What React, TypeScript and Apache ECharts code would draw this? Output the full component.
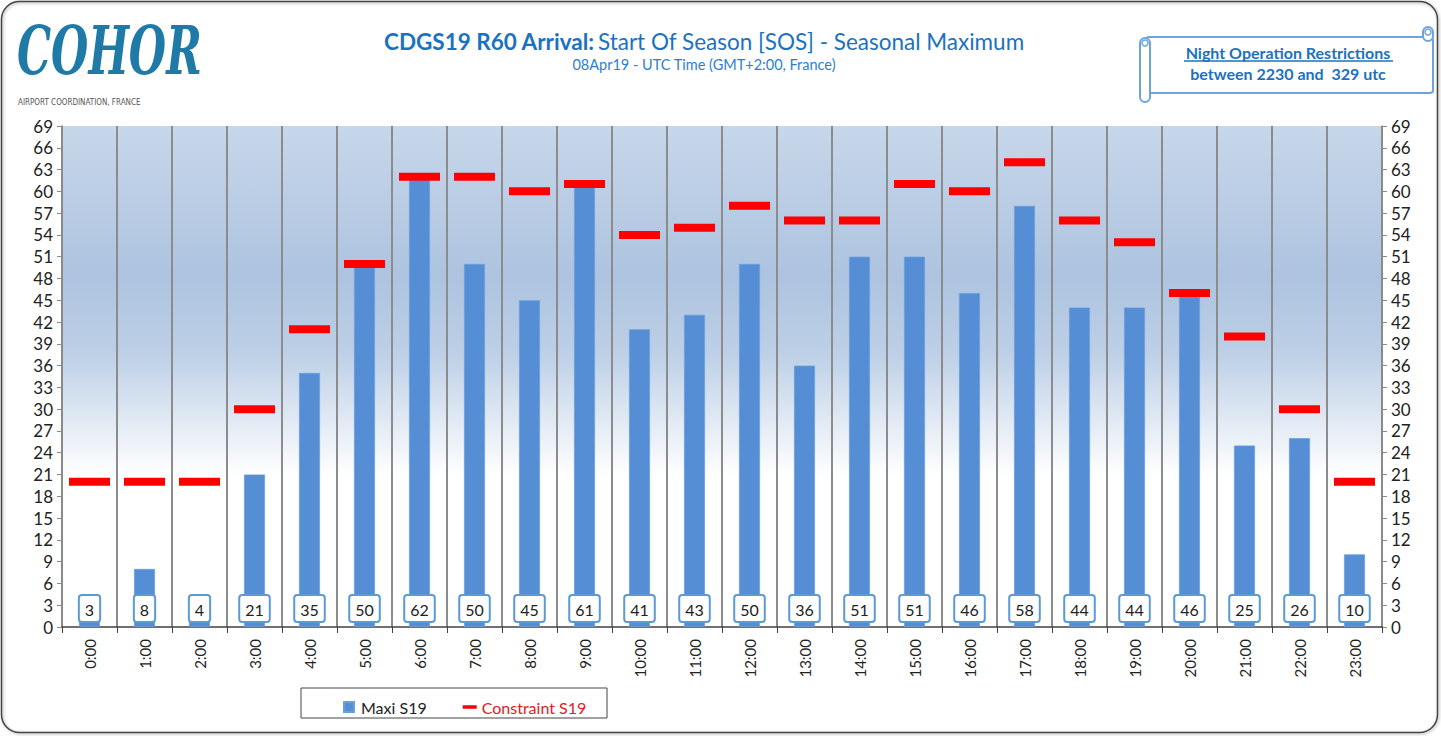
import React, { useEffect, useRef } from "react";
import * as echarts from "echarts";

const hours = ["0:00","1:00","2:00","3:00","4:00","5:00","6:00","7:00","8:00","9:00","10:00","11:00","12:00","13:00","14:00","15:00","16:00","17:00","18:00","19:00","20:00","21:00","22:00","23:00"];
const maxiS19 = [3, 8, 4, 21, 35, 50, 62, 50, 45, 61, 41, 43, 50, 36, 51, 51, 46, 58, 44, 44, 46, 25, 26, 10];
const constraintS19 = [20, 20, 20, 30, 41, 50, 62, 62, 60, 61, 54, 55, 58, 56, 56, 61, 60, 64, 56, 53, 46, 40, 30, 20];
const yMax = 69;
const yInterval = 3;

const FONT = "Lato, 'Open Sans', sans-serif";
const BLUE_TXT = "#1b72c0";

export default function App() {
  const ref = useRef<HTMLDivElement>(null);
  useEffect(() => {
    if (!ref.current) return;
    const chart = echarts.init(ref.current, undefined, { renderer: "svg" });
    const bg = new echarts.graphic.LinearGradient(0, 0, 0, 1, [
      { offset: 0, color: "#c7d7ea" },
      { offset: 0.3, color: "#adc3df" },
      { offset: 0.45, color: "#bccfe6" },
      { offset: 0.7, color: "#ffffff" },
      { offset: 1, color: "#ffffff" },
    ]);
    const yAxisCommon = {
      type: "value",
      min: 0,
      max: yMax,
      interval: yInterval,
      axisLine: { show: true, lineStyle: { color: "#8a8a8a", width: 1.5 } },
      axisTick: { show: true, length: 5, lineStyle: { color: "#8a8a8a" } },
      splitLine: { show: false },
      axisLabel: { color: "#222", fontSize: 17, fontFamily: FONT, margin: 9 },
    };
    chart.setOption({
      animation: false,
      backgroundColor: "#ffffff",
      textStyle: { fontFamily: FONT },
      grid: {
        left: 62,
        right: 59,
        top: 126,
        bottom: 109,
        show: true,
        backgroundColor: bg,
        borderWidth: 0,
      },
      legend: {
        left: 338,
        top: 694,
        itemGap: 36,
        itemWidth: 14,
        itemHeight: 10,
        textStyle: { fontSize: 16, fontFamily: FONT, color: "#222" },
        data: [
          { name: "Maxi S19", icon: "path://M0,0H10V10H0Z", textStyle: { color: "#222" } },
          { name: "Constraint S19", icon: "path://M0,0H14V3.5H0Z", textStyle: { color: "#e0201f" } },
        ],
      },
      xAxis: {
        type: "category",
        data: hours,
        boundaryGap: true,
        axisLine: { show: true, lineStyle: { color: "#404040", width: 1.5 } },
        axisTick: { show: true, interval: 0, length: 6, lineStyle: { color: "#404040" } },
        splitLine: { show: true, interval: 0, lineStyle: { color: "#8c8c8c", width: 2 } },
        axisLabel: { rotate: 90, interval: 0, color: "#222", fontSize: 15, fontFamily: FONT, margin: 12 },
      },
      yAxis: [
        { ...yAxisCommon, position: "left" },
        { ...yAxisCommon, position: "right" },
      ],
      series: [
        {
          name: "Maxi S19",
          type: "bar",
          data: maxiS19,
          barWidth: 21,
          itemStyle: { color: "#558ed5", borderColor: "#6b9edd", borderWidth: 0.8 },
          label: {
            show: true,
            position: "insideBottom",
            distance: 6,
            formatter: "{c}",
            color: "#222",
            fontSize: 16,
            fontFamily: FONT,
            backgroundColor: "#ffffff",
            borderColor: "#5b9bd5",
            borderWidth: 2,
            borderRadius: 2,
            padding: [5, 5, 4, 5],
            lineHeight: 16,
          },
          z: 2,
        },
        {
          name: "Constraint S19",
          type: "scatter",
          data: constraintS19,
          symbol: "rect",
          symbolSize: [41, 8],
          itemStyle: { color: "#ff0000", opacity: 1 },
          z: 5,
        },
      ],
      graphic: [
        {
          type: "rect",
          shape: { x: 1.5, y: 1.5, width: 1436, height: 731, r: 18 },
          style: { fill: "none", stroke: "#444", lineWidth: 1.5, shadowColor: "rgba(0,0,0,0.35)", shadowBlur: 3, shadowOffsetX: 1, shadowOffsetY: 1 },
          silent: true,
          z: -10,
        },
        {
          type: "text",
          x: 17,
          y: 16,
          scaleX: 0.63,
          style: {
            text: "COHOR",
            font: "italic bold 68px 'DejaVu Serif', serif",
            fill: "#1f7aa8",
          },
        },
        {
          type: "text",
          x: 18,
          y: 97,
          scaleX: 0.8,
          style: {
            text: "AIRPORT COORDINATION, FRANCE",
            font: "9px 'DejaVu Sans', sans-serif",
            fill: "#555",
          },
        },
        {
          type: "text",
          x: 704,
          y: 41,
          style: {
            text: "{b|CDGS19 R60 Arrival:} {n|Start Of Season [SOS] - Seasonal Maximum}",
            align: "center",
            verticalAlign: "middle",
            rich: {
              b: { fontSize: 22.5, fontWeight: "bold", fill: BLUE_TXT, fontFamily: FONT },
              n: { fontSize: 22.5, fill: BLUE_TXT, fontFamily: FONT },
            },
          },
        },
        {
          type: "text",
          x: 704,
          y: 64,
          style: {
            text: "08Apr19 - UTC Time (GMT+2:00, France)",
            align: "center",
            verticalAlign: "middle",
            fontSize: 14.5,
            fontFamily: FONT,
            fill: "#2c7fd0",
          },
        },
        // night operation scroll
        {
          type: "rect",
          shape: { x: 1146, y: 37, width: 287, height: 56, r: 3 },
          style: { fill: "#fff", stroke: "#6fa3dc", lineWidth: 2 },
        },
        {
          type: "rect",
          shape: { x: 1140, y: 38, width: 10, height: 64, r: 5 },
          style: { fill: "#fff", stroke: "#6fa3dc", lineWidth: 2 },
        },
        {
          type: "circle",
          shape: { cx: 1145, cy: 43, r: 3 },
          style: { fill: "none", stroke: "#6fa3dc", lineWidth: 1.5 },
        },
        {
          type: "rect",
          shape: { x: 1423, y: 27, width: 10, height: 14, r: 5 },
          style: { fill: "#fff", stroke: "#6fa3dc", lineWidth: 2 },
        },
        {
          type: "circle",
          shape: { cx: 1428, cy: 32, r: 3 },
          style: { fill: "none", stroke: "#6fa3dc", lineWidth: 1.5 },
        },
        {
          type: "text",
          x: 1288,
          y: 52,
          style: {
            text: "Night Operation Restrictions",
            align: "center",
            verticalAlign: "middle",
            fontSize: 16,
            fontWeight: "bold",
            fontFamily: FONT,
            fill: BLUE_TXT,
          },
        },
        {
          type: "line",
          shape: { x1: 1184, y1: 61, x2: 1393, y2: 61 },
          style: { stroke: BLUE_TXT, lineWidth: 1.3 },
        },
        {
          type: "text",
          x: 1288,
          y: 73,
          style: {
            text: "between 2230 and  329 utc",
            align: "center",
            verticalAlign: "middle",
            fontSize: 16,
            fontWeight: "bold",
            fontFamily: FONT,
            fill: BLUE_TXT,
          },
        },
        // legend frame
        {
          type: "rect",
          shape: { x: 301, y: 688, width: 306, height: 30 },
          style: { fill: "none", stroke: "#444", lineWidth: 1 },
          z: -1,
        },
      ],
    });
    return () => chart.dispose();
  }, []);
  return (
    <div
      ref={ref}
      style={{ position: "fixed", left: 0, top: 0, width: 1441, height: 736 }}
    />
  );
}
